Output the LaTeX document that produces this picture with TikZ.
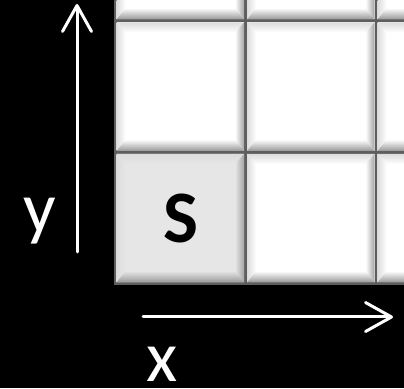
\documentclass[tikz,border=0pt]{standalone}
\usepackage{fontspec}
\setmainfont{Carlito}
\usetikzlibrary{arrows.meta}
\definecolor{gridline}{HTML}{5E5E5E}
\definecolor{bevlight}{HTML}{DCDCDC}
\definecolor{bevright}{HTML}{A4A4A4}
\definecolor{bevbottom}{HTML}{989898}
\definecolor{sface}{HTML}{E6E6E6}
\tikzset{
  axisarrow/.style={draw=white, line width=3pt, line cap=round,
    -{Straight Barb[length=26pt, width=29pt, line width=3pt, round]}},
  axislabel/.style={text=white, font=\fontsize{72}{80}\selectfont, anchor=base, inner sep=0pt},
  tilelabel/.style={text=black, font=\bfseries\fontsize{74}{80}\selectfont, anchor=base, inner sep=0pt}
}
\newcommand\beveltile[3]{%
  \begin{scope}[shift={(#1,#2)}]
    \fill[#3] (1.5,1.5) rectangle (129,130);
    % top bevel
    \shade[top color=bevlight, bottom color=#3] (1.5,130) -- (129,130) -- (120,120) -- (10.5,120) -- cycle;
    % left bevel
    \shade[left color=bevlight, right color=#3] (1.5,1.5) -- (1.5,130) -- (10.5,120) -- (10.5,13) -- cycle;
    % right bevel
    \shade[left color=#3, right color=bevright] (129,1.5) -- (129,130) -- (120,120) -- (120,13) -- cycle;
    % bottom bevel
    \shade[top color=#3, bottom color=bevbottom] (1.5,1.5) -- (129,1.5) -- (120,13) -- (10.5,13) -- cycle;
  \end{scope}}
\begin{document}
\begin{tikzpicture}[x=1pt,y=1pt]
  \useasboundingbox (0,0) rectangle (404,388);
  \fill[black] (0,0) rectangle (404,388);
  \begin{scope}
    \clip (0,0) rectangle (404,388);
    \fill[gridline] (113.5,102.5) rectangle (520,520);
    \foreach \cx in {115,245.5,376} {
      \foreach \cy in {104,235.5,367} {
        \beveltile{\cx}{\cy}{white}
      }
    }
    \beveltile{115}{104}{sface}
  \end{scope}
  \node[tilelabel] (s) at (181,145) {S};
  \coordinate (ystart) at (77,136);
  \coordinate (yend) at (77,384);
  \coordinate (xstart) at (143,71);
  \coordinate (xend) at (393,71);
  \draw[axisarrow] (ystart) -- (yend);
  \draw[axisarrow] (xstart) -- (xend);
  \node[axislabel] (ylab) at (40,155) {y};
  \node[axislabel] (xlab) at (162,7) {x};
\end{tikzpicture}
\end{document}
